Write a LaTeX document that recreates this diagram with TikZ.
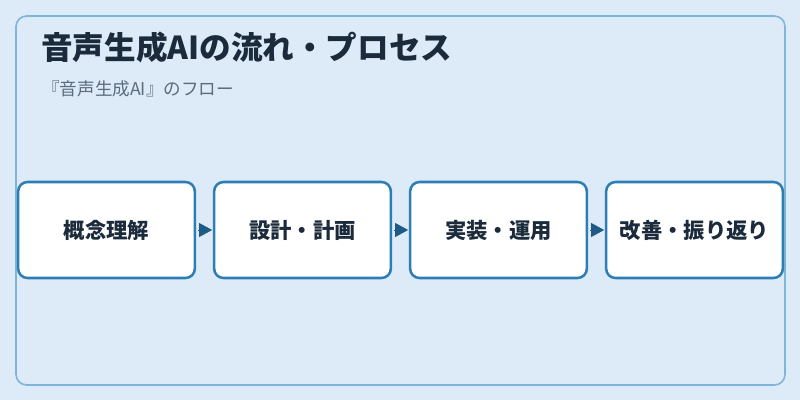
\documentclass[tikz,border=0pt]{standalone}
\usepackage{fontspec}
\setmainfont{Noto Sans CJK JP}
\usetikzlibrary{arrows.meta}
\usetikzlibrary{positioning}

\definecolor{pagebg}{HTML}{DCEBF7}
\definecolor{framecol}{HTML}{80B4DA}
\definecolor{boxcol}{HTML}{2E7EB6}
\definecolor{arrcol}{HTML}{1F5A87}
\definecolor{inkcol}{HTML}{1B2B3B}
\definecolor{subcol}{HTML}{5C6C7C}

\begin{document}
\begin{tikzpicture}[x=0.75pt, y=-0.75pt, node distance=147pt,
    >={Triangle[length=9.75pt,width=10.5pt]}]
		 \tikzstyle{stage} = [draw=boxcol, line width=1.9pt, fill=white, rounded corners=7pt,
		                      minimum width=132.5pt, minimum height=72pt, inner sep=0pt,
		                      text=inkcol, font=\fontsize{16}{19}\selectfont\bfseries];
		 \tikzstyle{flow} = [->, arrcol, line width=0.5pt, shorten <=1.5pt, shorten >=0.6pt];

		 % background and frame
		 \useasboundingbox [fill=pagebg] (0,0) rectangle (800,400);
		 \draw [framecol, line width=1.2pt, fill=pagebg, rounded corners=8pt] (16,16) rectangle (785,385);

		 \node [anchor=west, inner sep=0pt, text=inkcol, font=\fontsize{23.7}{28}\selectfont\bfseries]
		       (title) at (41,47) {音声生成AIの流れ・プロセス};
		 \node [anchor=west, inner sep=0pt, text=subcol, font=\fontsize{13.2}{16}\selectfont]
		       (sub) at (42,89) {『音声生成AI』のフロー};

		 \node [stage]                        (S1) at (106.5,230) {概念理解};
		 \node [stage] [right of = S1]        (S2) {設計・計画};
		 \node [stage] [right of = S2]        (S3) {実装・運用};
		 \node [stage] [right of = S3]        (S4) {改善・振り返り};

		 \path [flow] (S1) edge (S2)
		              (S2) edge (S3)
		              (S3) edge (S4);
	\end{tikzpicture}
\end{document}
